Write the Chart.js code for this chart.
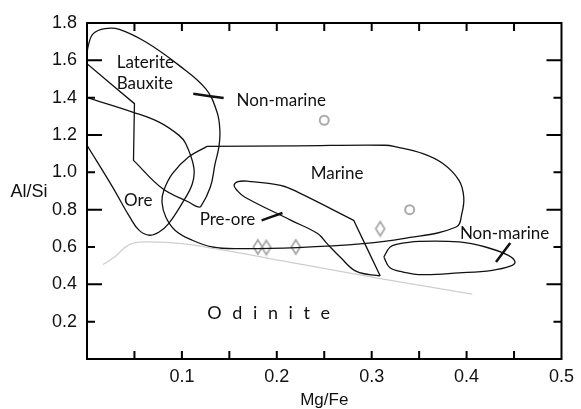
<!DOCTYPE html>
<html>
<head>
<meta charset="utf-8">
<script src="https://cdn.jsdelivr.net/npm/chart.js@4.4.1/dist/chart.umd.min.js"></script>
<style>
  html, body { margin: 0; padding: 0; background: #fff; }
  #wrap { width: 581px; height: 409px; }
</style>
</head>
<body>
<div id="wrap"><canvas id="odiniteChart" width="581" height="409"></canvas></div>
<script>
// Field outlines (x = Mg/Fe, y = Al/Si)
// repeated points keep a sharp corner when the curve is smoothed
const lateriteX = [0, 0.050, 0.050, 0.049, 0.049, 0.0795, 0.107, 0.116, 0.120, 0.130, 0.135, 0.139, 0.140, 0.137, 0.125, 0.097, 0.062, 0.034, 0.019, 0.0066, 0.0014, 0, 0];
const lateriteY = [1.582, 1.368, 1.368, 1.064, 1.064, 0.913, 0.841, 0.816, 0.818, 0.921, 1.047, 1.136, 1.225, 1.323, 1.448, 1.573, 1.698, 1.766, 1.770, 1.743, 1.680, 1.627, 1.582];

const oreX = [0, 0.048, 0.076, 0.097, 0.104, 0.1125, 0.111, 0.100, 0.086, 0.076, 0.066, 0.055, 0.045, 0.027, 0];
const oreY = [1.40, 1.323, 1.269, 1.198, 1.154, 1.028, 0.939, 0.832, 0.725, 0.680, 0.663, 0.689, 0.761, 0.921, 1.145];

const marineX = [0.1264, 0.107, 0.090, 0.081, 0.079, 0.083, 0.093, 0.111, 0.132, 0.159, 0.222, 0.291, 0.333, 0.389, 0.395, 0.397, 0.392, 0.375, 0.354, 0.326, 0.314, 0.222, 0.1264];
const marineY = [1.139, 1.082, 0.993, 0.904, 0.841, 0.761, 0.689, 0.636, 0.600, 0.591, 0.597, 0.618, 0.645, 0.707, 0.779, 0.868, 0.957, 1.047, 1.100, 1.136, 1.145, 1.142, 1.139];

const preOreX = [0.309, 0.284, 0.267, 0.253, 0.243, 0.215, 0.166, 0.158, 0.155, 0.159, 0.170, 0.204, 0.222, 0.281, 0.281, 0.309];
const preOreY = [0.445, 0.469, 0.545, 0.618, 0.672, 0.743, 0.868, 0.904, 0.930, 0.950, 0.952, 0.930, 0.894, 0.743, 0.743, 0.445];

const nonMarineX = [0.3128, 0.319, 0.326, 0.350, 0.392, 0.420, 0.444, 0.451, 0.446, 0.427, 0.392, 0.354, 0.333, 0.319, 0.3128];
const nonMarineY = [0.546, 0.598, 0.614, 0.630, 0.627, 0.600, 0.555, 0.520, 0.497, 0.475, 0.461, 0.452, 0.466, 0.490, 0.546];

// grey odinite trend
const trendX = [0.017, 0.024, 0.031, 0.040, 0.048, 0.066, 0.100, 0.135, 0.222, 0.309, 0.406];
const trendY = [0.506, 0.529, 0.555, 0.598, 0.620, 0.627, 0.618, 0.591, 0.511, 0.431, 0.347];

// samples
const circleX = [0.25, 0.34];
const circleY = [1.279, 0.80];
const diamondX = [0.180, 0.189, 0.220, 0.309];
const diamondY = [0.600, 0.597, 0.600, 0.698];

// label leader strokes
const leaderTopX = [0.112, 0.144];
const leaderTopY = [1.421, 1.398];
const leaderPreX = [0.184, 0.206];
const leaderPreY = [0.743, 0.782];
const leaderRightX = [0.431, 0.446];
const leaderRightY = [0.520, 0.621];

// field names
const labelText = ["Laterite", "Bauxite", "Non-marine", "Ore", "Marine", "Pre-ore", "Non-marine"];
const labelX = [0.0615, 0.061, 0.2047, 0.054, 0.2635, 0.148, 0.440];
const labelY = [1.590, 1.478, 1.386, 0.850, 0.993, 0.747, 0.672];

const xTicks = [0.1, 0.2, 0.3, 0.4, 0.5];
const yTicks = [0.2, 0.4, 0.6, 0.8, 1.0, 1.2, 1.4, 1.6, 1.8];

function pts(xs, ys) {
  return xs.map((x, i) => ({ x: x, y: ys[i] }));
}

function outline(xs, ys, color, width) {
  return {
    data: pts(xs, ys),
    showLine: true,
    borderColor: color,
    borderWidth: width,
    pointRadius: 0,
    tension: 0.4,
    fill: false
  };
}

// tall thin diamond marker
const diamond = document.createElement("canvas");
diamond.width = 12;
diamond.height = 18;
const dctx = diamond.getContext("2d");
dctx.strokeStyle = "#aaa";
dctx.lineWidth = 1.8;
dctx.beginPath();
dctx.moveTo(6, 2);
dctx.lineTo(10.5, 9);
dctx.lineTo(6, 16);
dctx.lineTo(1.5, 9);
dctx.closePath();
dctx.stroke();

// frame, inward ticks and text
const framePlugin = {
  id: "frame",
  afterDatasetsDraw(chart) {
    const ctx = chart.ctx;
    const a = chart.chartArea;
    const xs = chart.scales.x;
    const ys = chart.scales.y;
    ctx.save();
    ctx.strokeStyle = "#000";
    ctx.lineWidth = 2;
    ctx.strokeRect(a.left, a.top, a.right - a.left, a.bottom - a.top);
    ctx.beginPath();
    for (let i = 1; i < 10; i++) {
      const px = xs.getPixelForValue(i * 0.05);
      ctx.moveTo(px, a.bottom);
      ctx.lineTo(px, a.bottom - 8);
      ctx.moveTo(px, a.top);
      ctx.lineTo(px, a.top + 8);
    }
    for (let i = 1; i < 9; i++) {
      const py = ys.getPixelForValue(i * 0.2);
      const len = i % 2 === 0 ? 15 : 8;
      ctx.moveTo(a.left, py);
      ctx.lineTo(a.left + len, py);
      ctx.moveTo(a.right, py);
      ctx.lineTo(a.right - len, py);
    }
    ctx.stroke();

    ctx.fillStyle = "#111";
    ctx.textAlign = "center";
    ctx.textBaseline = "middle";
    ctx.font = "17px Lato";
    labelText.forEach((t, i) => {
      ctx.fillText(t, xs.getPixelForValue(labelX[i]), ys.getPixelForValue(labelY[i]));
    });
    ctx.font = "18px Lato";
    ctx.letterSpacing = "3px";
    ctx.fillText("O d i n i t e", xs.getPixelForValue(0.193), ys.getPixelForValue(0.243));
    ctx.letterSpacing = "0px";
    ctx.font = "18px 'Liberation Sans'";
    ctx.fillText("Al/Si", 29, ys.getPixelForValue(0.895));
    ctx.restore();
  }
};

const chart = new Chart(document.getElementById("odiniteChart"), {
  type: "scatter",
  data: {
    datasets: [
      outline(trendX, trendY, "#cfcfcf", 1.3),
      outline(lateriteX, lateriteY, "#111", 1.3),
      outline(oreX, oreY, "#111", 1.3),
      outline(marineX, marineY, "#111", 1.3),
      outline(preOreX, preOreY, "#111", 1.3),
      outline(nonMarineX, nonMarineY, "#111", 1.3),
      outline(leaderTopX, leaderTopY, "#111", 2.5),
      outline(leaderPreX, leaderPreY, "#111", 2.5),
      outline(leaderRightX, leaderRightY, "#111", 2.5),
      {
        data: pts(circleX, circleY),
        pointStyle: "circle",
        pointRadius: 4.5,
        borderColor: "#aaa",
        borderWidth: 2,
        backgroundColor: "rgba(0,0,0,0)"
      },
      {
        data: pts(diamondX, diamondY),
        pointStyle: diamond,
        pointRadius: 6
      }
    ]
  },
  options: {
    responsive: false,
    animation: false,
    layout: { padding: { left: 0, right: 14, top: 23, bottom: 0 } },
    plugins: { legend: { display: false }, tooltip: { enabled: false } },
    scales: {
      x: {
        type: "linear",
        min: 0,
        max: 0.5,
        grid: { display: false, drawTicks: false },
        border: { display: false },
        afterFit: s => { s.height = 50; },
        afterBuildTicks: s => { s.ticks = xTicks.map(v => ({ value: v })); },
        ticks: {
          padding: 7,
          color: "#111",
          font: { family: "Liberation Sans", size: 18 },
          callback: v => v.toFixed(1)
        },
        title: {
          display: true,
          text: "Mg/Fe",
          color: "#111",
          padding: { top: 0, bottom: -2 },
          font: { family: "Liberation Sans", size: 17 }
        }
      },
      y: {
        type: "linear",
        min: 0,
        max: 1.8,
        grid: { display: false, drawTicks: false },
        border: { display: false },
        afterFit: s => { s.width = 87; },
        afterBuildTicks: s => { s.ticks = yTicks.map(v => ({ value: v })); },
        ticks: {
          padding: 10,
          color: "#111",
          font: { family: "Liberation Sans", size: 18 },
          callback: v => v.toFixed(1)
        }
      }
    }
  },
  plugins: [framePlugin]
});
</script>
</body>
</html>
